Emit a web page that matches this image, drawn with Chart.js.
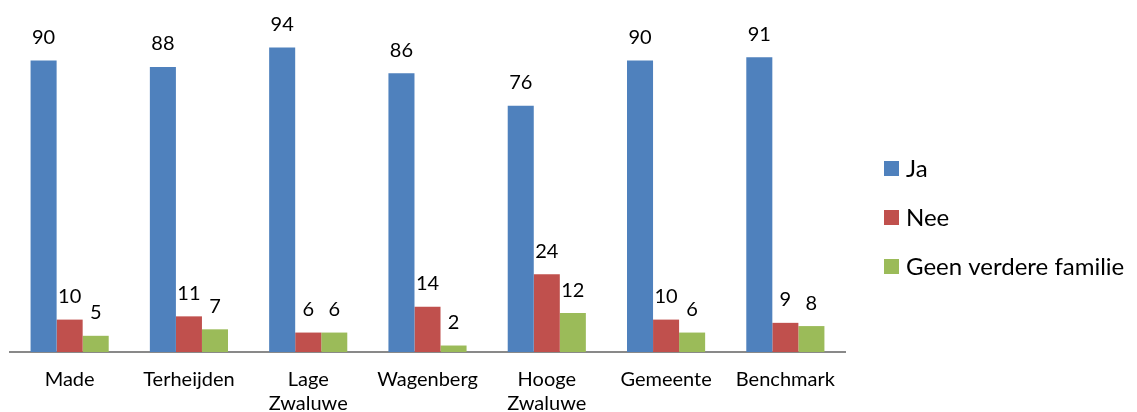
<!DOCTYPE html>
<html>
<head>
<meta charset="utf-8">
<script src="https://cdn.jsdelivr.net/npm/chart.js@4/dist/chart.umd.min.js"></script>
<style>
  body { margin: 0; background: #fff; }
  canvas { display: block; }
</style>
</head>
<body>
<canvas id="familieChart" width="1137" height="412"></canvas>
<script>
// Gegevens
const categories = ['Made', 'Terheijden', ['Lage', 'Zwaluwe'], 'Wagenberg', ['Hooge', 'Zwaluwe'], 'Gemeente', 'Benchmark'];
const seriesNames = ['Ja', 'Nee', 'Geen verdere familie'];
const jaValues = [90, 88, 94, 86, 76, 90, 91];
const neeValues = [10, 11, 6, 14, 24, 10, 9];
const geenValues = [5, 7, 6, 2, 12, 6, 8];
const colors = ['#4F81BD', '#C0504D', '#9BBB59'];

const fontFamily = 'Lato, "Open Sans", sans-serif';

// Waarden boven de staven
const valueLabels = {
    id: 'valueLabels',
    afterDatasetsDraw(chart) {
        const ctx = chart.ctx;
        ctx.save();
        ctx.font = '20px ' + fontFamily;
        ctx.fillStyle = '#000';
        ctx.textAlign = 'center';
        ctx.textBaseline = 'middle';
        chart.data.datasets.forEach((ds, i) => {
            chart.getDatasetMeta(i).data.forEach((bar, j) => {
                ctx.fillText(ds.data[j], bar.x, bar.y - 23);
            });
        });
        ctx.restore();
    }
};

// Legenda rechts
const sideLegend = {
    id: 'sideLegend',
    afterDraw(chart) {
        const ctx = chart.ctx;
        ctx.save();
        ctx.font = '24px ' + fontFamily;
        ctx.textBaseline = 'middle';
        seriesNames.forEach((name, i) => {
            const y = 168 + i * 49;
            ctx.fillStyle = colors[i];
            ctx.fillRect(884, y - 7, 15, 15);
            ctx.fillStyle = '#000';
            ctx.fillText(name, 906, y + 1);
        });
        ctx.restore();
    }
};

new Chart(document.getElementById('familieChart'), {
    type: 'bar',
    data: {
        labels: categories,
        datasets: [
            { label: seriesNames[0], data: jaValues, backgroundColor: colors[0] },
            { label: seriesNames[1], data: neeValues, backgroundColor: colors[1] },
            { label: seriesNames[2], data: geenValues, backgroundColor: colors[2] }
        ]
    },
    options: {
        responsive: false,
        animation: false,
        barPercentage: 1,
        categoryPercentage: 0.655,
        layout: { padding: { left: 10, right: 292, top: 28, bottom: 0 } },
        plugins: {
            legend: { display: false },
            tooltip: { enabled: false }
        },
        scales: {
            x: {
                grid: { display: false, drawTicks: false },
                border: { display: true, color: '#898989', width: 2 },
                ticks: {
                    padding: 16,
                    color: '#000',
                    maxRotation: 0,
                    autoSkip: false,
                    font: { family: fontFamily, size: 20 }
                },
                afterFit(scale) { scale.height = 60; }
            },
            y: {
                display: false,
                min: 0,
                max: 100
            }
        }
    },
    plugins: [valueLabels, sideLegend]
});
</script>
</body>
</html>
